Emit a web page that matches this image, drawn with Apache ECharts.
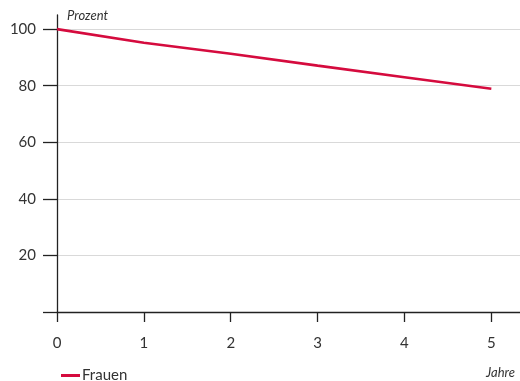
<!DOCTYPE html>
<html>
<head>
<meta charset="utf-8">
<script src="https://cdn.jsdelivr.net/npm/echarts@6/dist/echarts.min.js"></script>
<style>html,body{margin:0;padding:0;background:#fff;}#c{width:520px;height:381px;}</style>
</head>
<body>
<div id="c"></div>
<script>
const years = [0, 1, 2, 3, 4, 5];
const frauen = [100, 95.2, 91.3, 87.1, 83.0, 78.9];
const yTicks = [0, 20, 40, 60, 80, 100];
const yLabels = [20, 40, 60, 80, 100];
const seriesName = 'Frauen';
const yAxisTitle = 'Prozent';
const xAxisTitle = 'Jahre';

const chart = echarts.init(document.getElementById('c'), null, {renderer: 'canvas'});
const font = 'Lato, "Open Sans", sans-serif';
chart.setOption({
  animation: false,
  grid: {left: 57, right: 0, top: 15, bottom: 69, containLabel: false},
  xAxis: {
    type: 'value', min: 0, max: 5.33,
    axisLine: {show: true, lineStyle: {color: '#222', width: 1.3}},
    axisTick: {show: true, length: 10, customValues: years, lineStyle: {color: '#222', width: 1.3}},
    axisLabel: {customValues: years, margin: 24, color: '#333', fontSize: 15, fontFamily: font},
    splitLine: {show: false}
  },
  yAxis: {
    type: 'value', min: 0, max: 105,
    axisLine: {show: true, lineStyle: {color: '#222', width: 1.3}},
    axisTick: {show: true, length: 14, customValues: yTicks, lineStyle: {color: '#222', width: 1.3}},
    axisLabel: {customValues: yLabels, margin: 21, color: '#333', fontSize: 15, fontFamily: font},
    splitLine: {show: true, lineStyle: {color: '#d9d9d9', width: 1}}
  },
  legend: {
    left: 56, top: 363, itemWidth: 19, itemHeight: 3, itemGap: 10,
    icon: 'rect',
    textStyle: {color: '#333', fontSize: 15, fontFamily: font, padding: [0, 0, 0, -3]},
    data: [seriesName]
  },
  graphic: [
    {type: 'text', left: 67, top: 9, style: {text: yAxisTitle, font: 'italic 13px ' + font, fill: '#333'}},
    {type: 'text', right: 5, top: 366, style: {text: xAxisTitle, font: 'italic 13px ' + font, fill: '#333'}}
  ],
  series: [{
    name: seriesName, type: 'line', data: years.map((x, i) => [x, frauen[i]]),
    showSymbol: false, symbol: 'none',
    lineStyle: {color: '#d50b3e', width: 2.6},
    itemStyle: {color: '#d50b3e'}
  }]
});
</script>
</body>
</html>
